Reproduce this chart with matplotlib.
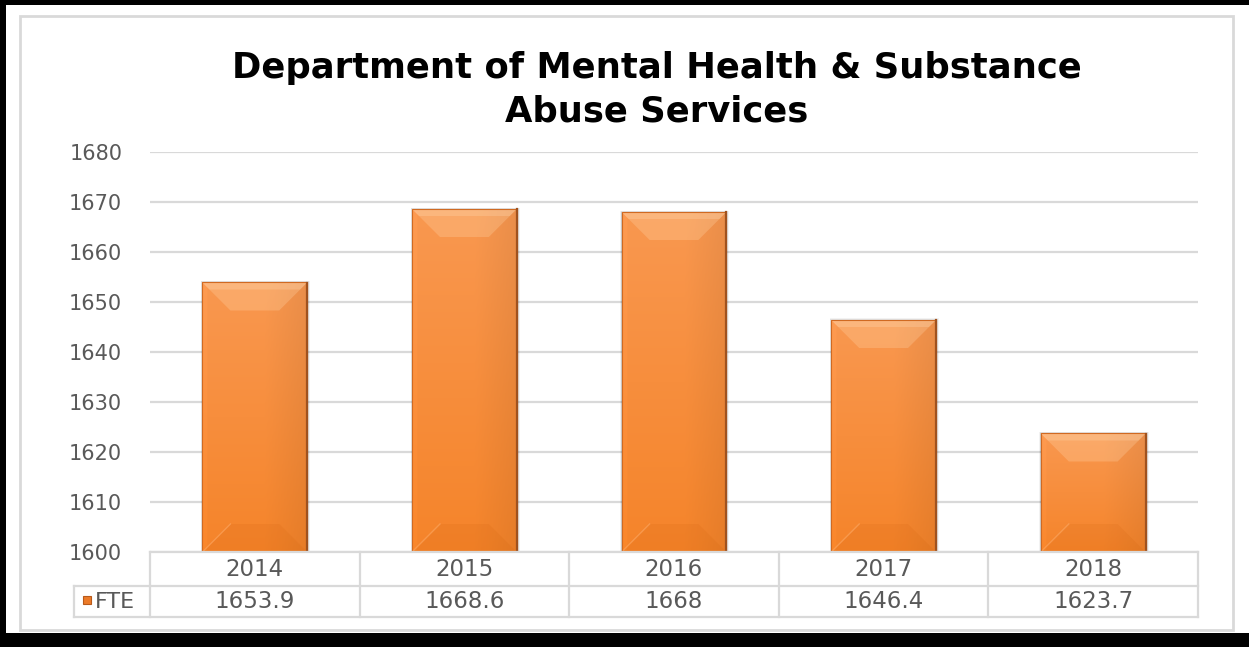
import numpy as np
import matplotlib
matplotlib.use("Agg")
import matplotlib.pyplot as plt
from matplotlib.patches import Rectangle, Polygon
from matplotlib.transforms import blended_transform_factory

# ---- data -------------------------------------------------------------
years = ["2014", "2015", "2016", "2017", "2018"]
fte = [1653.9, 1668.6, 1668, 1646.4, 1623.7]
fte_labels = ["1653.9", "1668.6", "1668", "1646.4", "1623.7"]
y_ticks = [1600, 1610, 1620, 1630, 1640, 1650, 1660, 1670, 1680]
series_name = "FTE"
title_lines = ["Department of Mental Health & Substance", "Abuse Services"]

# ---- figure geometry (pixels) ----------------------------------------
W, H = 1249, 647
AX_L, AX_R, AX_T, AX_B = 150, 1198, 152, 552
GRID = "#D9D9D9"
TXT = "#595959"

fig = plt.figure(figsize=(W / 100, H / 100), dpi=100)
fig.patch.set_facecolor("white")

ax = fig.add_axes([AX_L / W, 1 - AX_B / H, (AX_R - AX_L) / W, (AX_B - AX_T) / H])
ax.set_xlim(0, len(years))
ax.set_ylim(y_ticks[0], y_ticks[-1])
ax.set_yticks(y_ticks)
ax.set_xticks([])
ax.grid(axis="y", color=GRID, lw=1.6)
ax.set_axisbelow(True)
for s in ax.spines.values():
    s.set_visible(False)
ax.tick_params(axis="y", length=0, pad=20, labelsize=15, labelcolor=TXT)
ax.patch.set_alpha(0)

# ---- bars ---------------------------------------------------------------
base = y_ticks[0]
x = np.arange(len(years)) + 0.5
heights = np.array(fte) - base
bars = ax.bar(x, heights, width=0.5, bottom=base, color="#F7903F",
              edgecolor="none", zorder=2)

# pixel -> data scale factors for the bevel depth
px_x = len(years) / (AX_R - AX_L)
px_y = (y_ticks[-1] - y_ticks[0]) / (AX_B - AX_T)
bev = 28
bx, by = bev * px_x, bev * px_y

# shaded face: lighter at the top, slightly darker to the right
ny, nx = 200, 80
tv = np.linspace(0, 1, ny)[:, None]
th = np.linspace(0, 1, nx)[None, :]
top_c = np.array([249, 152, 80]) / 255
bot_c = np.array([245, 132, 42]) / 255
col = top_c[None, None, :] * (1 - tv[..., None]) + bot_c[None, None, :] * tv[..., None]
shade = np.ones_like(th)
shade = shade - 0.06 * np.clip((th - 0.6) / 0.4, 0, 1)
shade = shade + 0.02 * (th < 0.05)
face = np.clip(col * shade[..., None], 0, 1)

for b in bars:
    x0 = b.get_x()
    w = b.get_width()
    y0 = b.get_y()
    y1 = y0 + b.get_height()
    x1 = x0 + w
    # soft drop shadow
    for k, a in ((3, 0.05), (2, 0.07), (1, 0.10)):
        ax.add_patch(Rectangle((x0 - k * px_x * 0.5, y0), w + k * px_x * 1.5,
                               (y1 - y0) + k * px_y * 0.5,
                               color="black", alpha=a, lw=0, zorder=1.5))
    im = ax.imshow(face, extent=[x0, x1, y0, y1], aspect="auto",
                   interpolation="bilinear", zorder=2.1)
    im.set_clip_path(b)
    # bevels
    ax.add_patch(Polygon([(x0, y1), (x1, y1), (x1 - bx, y1 - by), (x0 + bx, y1 - by)],
                         closed=True, color="#FFD2A4", alpha=0.30, lw=0, zorder=2.2))
    ax.add_patch(Polygon([(x0, y1), (x1, y1), (x1 - bx * 0.25, y1 - by * 0.25),
                          (x0 + bx * 0.25, y1 - by * 0.25)],
                         closed=True, color="#FFE0BE", alpha=0.25, lw=0, zorder=2.25))
    ax.add_patch(Polygon([(x0, y0), (x1, y0), (x1 - bx, y0 + by), (x0 + bx, y0 + by)],
                         closed=True, color="#C05000", alpha=0.10, lw=0, zorder=2.2))
    ax.plot([x0, x0 + bx], [y0, y0 + by], color="#FFB070", lw=1, alpha=0.5, zorder=2.3)
    ax.add_patch(Rectangle((x0, y0), w, y1 - y0, fill=False, ec="#D06A22",
                           lw=0.8, zorder=2.4))
    ax.plot([x1, x1], [y0, y1], color="#A0521E", lw=1.6, zorder=2.5)

# ---- data table under the plot ---------------------------------------
trans = blended_transform_factory(ax.transData, ax.transAxes)
ax_h = AX_B - AX_T
r1 = -34 / ax_h
r2 = -65 / ax_h
key_x = -(AX_L - 74) * px_x
n = len(years)
line_kw = dict(color=GRID, lw=1.6, transform=trans, clip_on=False, zorder=3)
ax.plot([0, n], [0, 0], **line_kw)
ax.plot([0, n], [r1, r1], **line_kw)
ax.plot([key_x, 0], [r1, r1], **line_kw)
ax.plot([key_x, n], [r2, r2], **line_kw)
for i in range(n + 1):
    ax.plot([i, i], [0, r2], **line_kw)
ax.plot([key_x, key_x], [r1, r2], **line_kw)

for i, (yr, lab) in enumerate(zip(years, fte_labels)):
    ax.text(i + 0.5, r1 / 2, yr, transform=trans, ha="center", va="center",
            fontsize=16.5, color=TXT, clip_on=False)
    ax.text(i + 0.5, (r1 + r2) / 2, lab, transform=trans, ha="center", va="center",
            fontsize=16.5, color=TXT, clip_on=False)

# legend key in the table
fig.patches.append(Rectangle((83 / W, 1 - 604 / H), 8 / W, 8 / H, transform=fig.transFigure,
                             fc="#EC7A28", ec="#B85A1A", lw=0.8))
fig.text(95 / W, 1 - 602 / H, series_name, ha="left", va="center",
         fontsize=16, color=TXT)

# ---- title ---------------------------------------------------------------
fig.text(657 / W, 1 - 78 / H, title_lines[0], ha="center", va="baseline",
         fontsize=25.5, fontweight="bold", color="black")
fig.text(657 / W, 1 - 121 / H, title_lines[1], ha="center", va="baseline",
         fontsize=25.5, fontweight="bold", color="black")

# ---- chart frame -----------------------------------------------------------
fig.patches.append(Rectangle((20 / W, 1 - 630 / H), 1213 / W, 614 / H,
                             transform=fig.transFigure, fill=False, ec=GRID, lw=2))
for (px0, py0, pw, ph) in [(0, 0, 6, H), (0, 0, W, 5), (0, 633, W, H - 633)]:
    fig.patches.append(Rectangle((px0 / W, 1 - (py0 + ph) / H), pw / W, ph / H,
                                 transform=fig.transFigure, fc="black", ec="none"))

fig.savefig("out.png", dpi=100)
